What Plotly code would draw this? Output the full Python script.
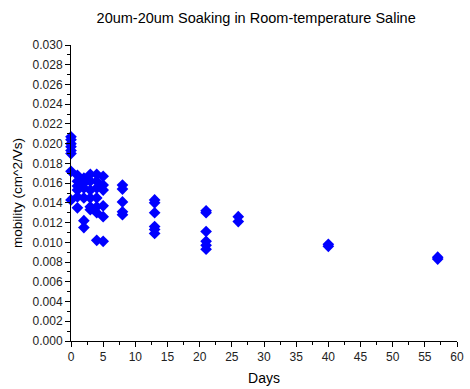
import plotly.graph_objects as go

# Days and mobility values (cm^2/Vs)
day0 = [0.0207, 0.0204, 0.0200, 0.0197, 0.0193, 0.0190, 0.0172, 0.0143]
day1 = [0.0168, 0.0162, 0.0157, 0.0153, 0.0146, 0.0135]
day2 = [0.0165, 0.0160, 0.0155, 0.0145, 0.0122, 0.0115]
day3 = [0.0169, 0.0162, 0.0153, 0.0145, 0.0136, 0.0133]
day4 = [0.0169, 0.0162, 0.0155, 0.0145, 0.0136, 0.0130, 0.0102]
day5 = [0.0167, 0.0158, 0.0153, 0.0137, 0.0126, 0.0101]
day8 = [0.0158, 0.0154, 0.0141, 0.0131, 0.0128]
day13 = [0.0143, 0.0140, 0.0130, 0.0116, 0.0113, 0.0109]
day21 = [0.0132, 0.0130, 0.0111, 0.0101, 0.0097, 0.0093]
day26 = [0.0126, 0.0121]
day40 = [0.0098, 0.0096]
day57 = [0.0085, 0.0083]

groups = [(0, day0), (1, day1), (2, day2), (3, day3), (4, day4), (5, day5),
          (8, day8), (13, day13), (21, day21), (26, day26), (40, day40), (57, day57)]

days = []
mobility = []
for d, vals in groups:
    days += [d] * len(vals)
    mobility += vals

FONT = "Arial, Liberation Sans, sans-serif"

fig = go.Figure()
fig.add_trace(go.Scatter(
    x=days, y=mobility, mode="markers",
    marker=dict(symbol="diamond", size=9, color="#0000FF", line=dict(width=0)),
    cliponaxis=False, showlegend=False,
))

axis_common = dict(
    showgrid=False, zeroline=False, showline=True, linecolor="black", linewidth=1,
    ticks="outside", ticklen=5, tickcolor="black", tickwidth=1,
    tickfont=dict(family=FONT, size=12, color="#222222"),
)

fig.update_layout(
    width=470, height=389,
    margin=dict(l=71, r=6, t=45, b=48),
    paper_bgcolor="white", plot_bgcolor="white",
    title=dict(text="20um-20um Soaking in Room-temperature Saline",
               x=0.545, xanchor="center", y=0.955, yanchor="middle",
               font=dict(family=FONT, size=14.5, color="black")),
    xaxis=dict(range=[0, 60], dtick=5, tick0=0, ticklabeloverflow="allow",
               title=dict(text="Days", font=dict(family=FONT, size=14, color="black"), standoff=9),
               minor=dict(dtick=2.5, ticks="outside", ticklen=3, tickcolor="black"),
               **axis_common),
    yaxis=dict(range=[0, 0.030], dtick=0.002, tick0=0, tickformat=".3f",
               title=dict(text="mobility (cm^2/Vs)", font=dict(family=FONT, size=13.5, color="black"), standoff=6),
               minor=dict(dtick=0.001, ticks="outside", ticklen=3, tickcolor="black"),
               **axis_common),
)

fig.write_html("out.html")
